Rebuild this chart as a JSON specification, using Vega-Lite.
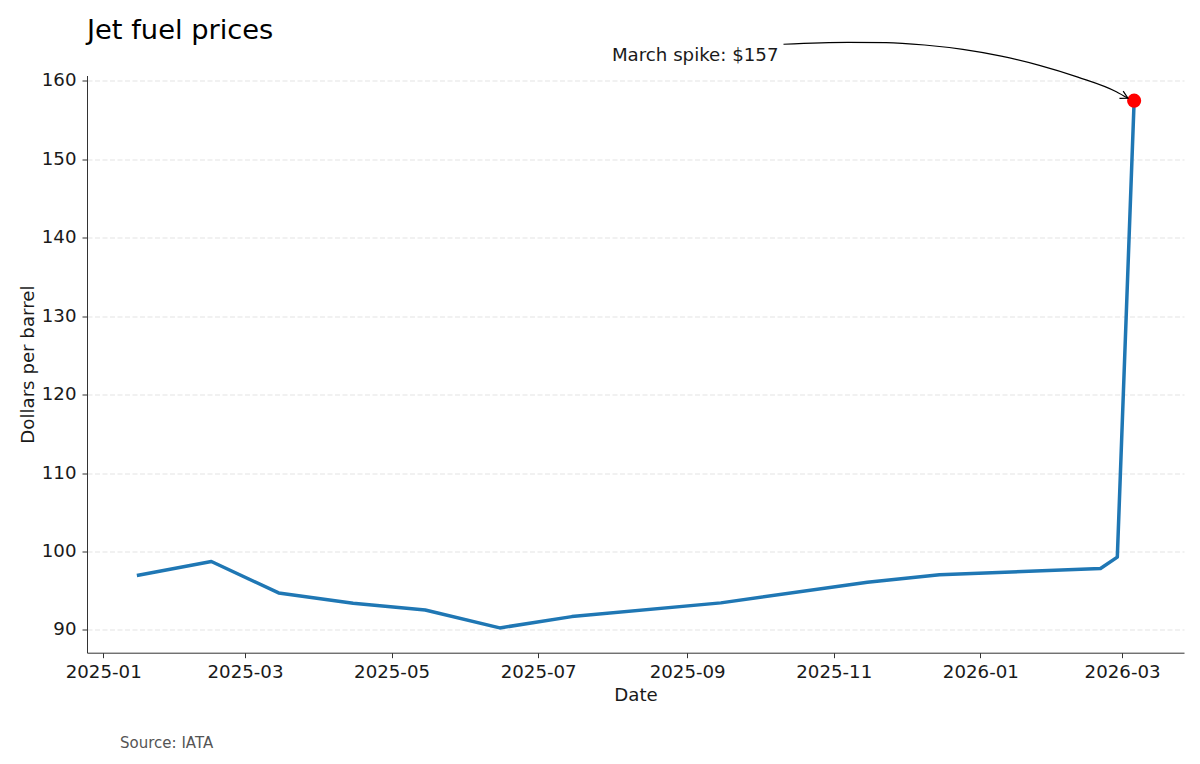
{
  "$schema": "https://vega.github.io/schema/vega-lite/v6.json",
  "autosize": {"type": "none"},
  "width": 1097,
  "height": 577.2,
  "padding": {"left": 87, "top": 75.5, "right": 16, "bottom": 111.3},
  "background": "white",
  "title": {
    "text": "Jet fuel prices",
    "anchor": "start",
    "frame": "group",
    "font": "DejaVu Sans",
    "fontSize": 27.3,
    "fontWeight": "normal",
    "color": "#000000",
    "baseline": "alphabetic",
    "offset": -26
  },
  "config": {
    "font": "DejaVu Sans",
    "view": {"stroke": null},
    "axis": {
      "labelFont": "DejaVu Sans",
      "titleFont": "DejaVu Sans",
      "labelFontSize": 18.2,
      "titleFontSize": 18.2,
      "titleFontWeight": "normal",
      "labelColor": "#1a1a1a",
      "titleColor": "#1a1a1a",
      "domainColor": "#333333",
      "tickColor": "#333333",
      "domainWidth": 1,
      "tickWidth": 1,
      "tickSize": 5
    }
  },
  "datasets": {
    "prices": [
      {"date": "2025-01-15", "value": 96.94},
      {"date": "2025-02-15", "value": 98.72},
      {"date": "2025-03-15", "value": 94.72},
      {"date": "2025-04-15", "value": 93.40},
      {"date": "2025-05-15", "value": 92.55},
      {"date": "2025-06-15", "value": 90.26},
      {"date": "2025-07-15", "value": 91.70},
      {"date": "2025-09-15", "value": 93.45},
      {"date": "2025-11-15", "value": 96.09},
      {"date": "2025-12-15", "value": 97.02},
      {"date": "2026-02-20", "value": 97.83},
      {"date": "2026-02-27", "value": 99.28},
      {"date": "2026-03-06", "value": 157.45}
    ],
    "spike": [
      {"date": "2026-03-06", "value": 157.45}
    ],
    "arrow": [
      {"date": "2025-10-11T02:00:00Z", "value": 164.64},
      {"date": "2025-11-06T22:00:00Z", "value": 164.89},
      {"date": "2025-11-22T19:00:00Z", "value": 164.86},
      {"date": "2025-12-08T19:00:00Z", "value": 164.55},
      {"date": "2025-12-24T17:00:00Z", "value": 163.99},
      {"date": "2026-01-09T17:00:00Z", "value": 163.13},
      {"date": "2026-01-25T14:00:00Z", "value": 161.96},
      {"date": "2026-02-10T14:00:00Z", "value": 160.46},
      {"date": "2026-02-26T14:00:00Z", "value": 158.60},
      {"date": "2026-03-03T10:00:00Z", "value": 157.77}
    ],
    "arrowhead": [
      {"date": "2026-03-03T10:00:00Z", "value": 157.77}
    ],
    "note": [
      {"date": "2025-10-09", "value": 163.15, "label": "March spike: $157"}
    ],
    "source": [
      {"date": "2025-01-08", "value": 75.64, "label": "Source: IATA"}
    ]
  },
  "encoding": {
    "x": {
      "field": "date",
      "type": "temporal",
      "title": "Date",
      "scale": {
        "type": "utc",
        "domain": [
          {"year": 2024, "month": 12, "date": 25, "hours": 6, "utc": true},
          {"year": 2026, "month": 3, "date": 26, "hours": 18, "utc": true}
        ],
        "nice": false
      },
      "axis": {
        "values": [
          {"year": 2025, "month": 1, "date": 1, "utc": true},
          {"year": 2025, "month": 3, "date": 1, "utc": true},
          {"year": 2025, "month": 5, "date": 1, "utc": true},
          {"year": 2025, "month": 7, "date": 1, "utc": true},
          {"year": 2025, "month": 9, "date": 1, "utc": true},
          {"year": 2025, "month": 11, "date": 1, "utc": true},
          {"year": 2026, "month": 1, "date": 1, "utc": true},
          {"year": 2026, "month": 3, "date": 1, "utc": true}
        ],
        "format": "%Y-%m",
        "grid": false,
        "labelFlush": false,
        "labelOverlap": false,
        "labelPadding": 5.5,
        "titlePadding": 5.8
      }
    },
    "y": {
      "field": "value",
      "type": "quantitative",
      "title": "Dollars per barrel",
      "scale": {"domain": [87.1, 160.66], "nice": false, "zero": false},
      "axis": {
        "values": [90, 100, 110, 120, 130, 140, 150, 160],
        "grid": true,
        "gridColor": "#e3e3e3",
        "gridDash": [5, 2.5],
        "gridWidth": 1,
        "labelPadding": 6,
        "titlePadding": 4
      }
    }
  },
  "layer": [
    {
      "data": {"name": "prices"},
      "mark": {"type": "line", "color": "#1f77b4", "strokeWidth": 3.5, "strokeJoin": "round", "clip": false}
    },
    {
      "data": {"name": "spike"},
      "mark": {"type": "point", "filled": true, "color": "#ff0000", "opacity": 1, "size": 200}
    },
    {
      "data": {"name": "arrow"},
      "mark": {"type": "line", "color": "#000000", "strokeWidth": 1.2, "interpolate": "monotone", "clip": false}
    },
    {
      "data": {"name": "arrowhead"},
      "mark": {"type": "point", "shape": "M-1,-0.55L0,0L-1,0.55", "filled": false, "stroke": "#000000", "strokeWidth": 1.2, "opacity": 1, "size": 220, "angle": 27}
    },
    {
      "data": {"name": "note"},
      "mark": {"type": "text", "align": "right", "baseline": "middle", "fontSize": 18.2, "color": "#1a1a1a", "font": "DejaVu Sans"},
      "encoding": {"text": {"field": "label"}}
    },
    {
      "data": {"name": "source"},
      "mark": {"type": "text", "align": "left", "baseline": "middle", "fontSize": 15, "color": "#555555", "font": "DejaVu Sans"},
      "encoding": {"text": {"field": "label"}}
    }
  ]
}
